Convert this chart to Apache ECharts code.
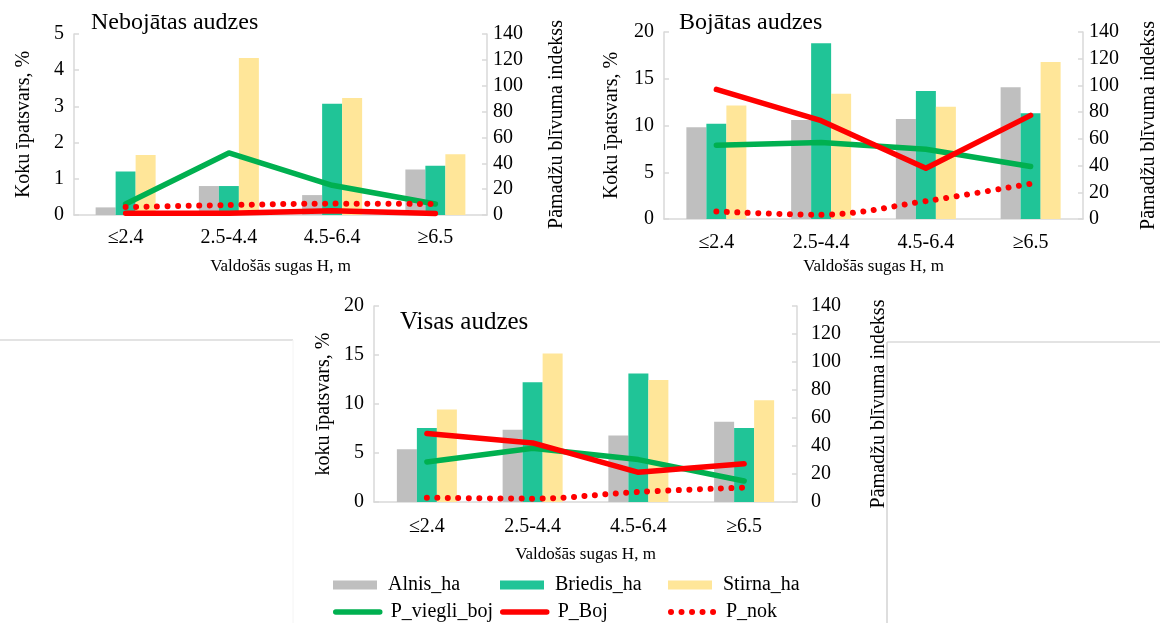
<!DOCTYPE html>
<html>
<head>
<meta charset="utf-8">
<script src="https://cdn.jsdelivr.net/npm/echarts@6/dist/echarts.min.js"></script>
<style>
  html, body { margin: 0; padding: 0; background: #fff; }
  #chart { width: 1160px; height: 623px; }
</style>
</head>
<body>
<div id="chart"></div>
<script>
// Height classes of the dominant species
const categories = ['≤2.4', '2.5-4.4', '4.5-6.4', '≥6.5'];

// Nebojātas audzes
const nebAlnis   = [0.21, 0.8, 0.55, 1.26];
const nebBriedis = [1.2, 0.8, 3.07, 1.36];
const nebStirna  = [1.66, 4.34, 3.23, 1.68];
const nebViegli  = [8.5, 48, 23, 8.5];
const nebBoj     = [1.3, 1.3, 3.3, 1.2];
const nebNok     = [6.1, 7.7, 8.8, 8.5];

// Bojātas audzes
const bojAlnis   = [9.8, 10.6, 10.7, 14.1];
const bojBriedis = [10.2, 18.8, 13.7, 11.3];
const bojStirna  = [12.15, 13.4, 12.0, 16.8];
const bojViegli  = [55.2, 57.2, 52.2, 39.3];
const bojBoj     = [97, 73.6, 38, 77.6];
const bojNok     = [5.7, 3.2, 13.4, 26.4];

// Visas audzes
const visAlnis   = [5.38, 7.36, 6.78, 8.18];
const visBriedis = [7.56, 12.23, 13.12, 7.56];
const visStirna  = [9.44, 15.16, 12.44, 10.39];
const visViegli  = [28.6, 38.4, 30.3, 15.0];
const visBoj     = [48.9, 42.2, 21.2, 27.4];
const visNok     = [3.1, 2.4, 7.2, 10.3];

const leftMax = [5, 20, 20];
const leftInterval = [1, 5, 5];
const rightTicks = { min: 0, max: 140, interval: 20 };
const panelTitles = ['Nebojātas audzes', 'Bojātas audzes', 'Visas audzes'];
const leftNames = ['Koku īpatsvars, %', 'Koku īpatsvars, %', 'koku īpatsvars, %'];
const rightName = 'Pāmadžu blīvuma indekss';
const xName = 'Valdošās sugas H, m';

const panels = [
  { alnis: nebAlnis, briedis: nebBriedis, stirna: nebStirna, viegli: nebViegli, boj: nebBoj, nok: nebNok },
  { alnis: bojAlnis, briedis: bojBriedis, stirna: bojStirna, viegli: bojViegli, boj: bojBoj, nok: bojNok },
  { alnis: visAlnis, briedis: visBriedis, stirna: visStirna, viegli: visViegli, boj: visBoj, nok: visNok }
];

const FONT = 'Liberation Serif';
const AXIS_GREY = '#D9D9D9';
const C_ALNIS = '#BFBFBF';
const C_BRIEDIS = '#20C497';
const C_STIRNA = '#FFE699';
const C_VIEGLI = '#00B050';
const C_BOJ = '#FF0000';
const NOK_DASH = [0.01, 10.5];

// Plot rectangles of the three panels
const grids = [
  { left: 74, top: 34, width: 413, height: 181 },
  { left: 664, top: 32, width: 423, height: 187 },
  { left: 374, top: 306, width: 423, height: 196 }
];
const xLabelMargin = [13, 14, 15];
const xNameGap = [43, 39, 44];
const leftNameGap = [40, 42, 40];
const rightLabelMargin = [6, 6, 14];
const rightNameGap = [60, 56, 72];
const titlePos = [
  { left: 86, top: 6, size: 24 },
  { left: 674, top: 6, size: 24 },
  { left: 395, top: 305, size: 25 }
];

const xAxes = [], yAxes = [], series = [], titles = [];
panels.forEach((p, i) => {
  titles.push({
    text: panelTitles[i], left: titlePos[i].left, top: titlePos[i].top,
    textStyle: { fontFamily: FONT, fontSize: titlePos[i].size, fontWeight: 'normal', color: '#000' }
  });
  xAxes.push({
    gridIndex: i, type: 'category', data: categories,
    axisLine: { lineStyle: { color: AXIS_GREY, width: 1.5 } },
    axisTick: { show: false },
    axisLabel: { fontFamily: FONT, fontSize: 20, color: '#000', margin: xLabelMargin[i] },
    name: xName, nameLocation: 'middle', nameGap: xNameGap[i],
    nameTextStyle: { fontFamily: FONT, fontSize: 17, color: '#000' }
  });
  yAxes.push({
    gridIndex: i, type: 'value', position: 'left', min: 0, max: leftMax[i], interval: leftInterval[i],
    axisLine: { show: true, lineStyle: { color: AXIS_GREY, width: 1.5 } },
    axisTick: { show: true, inside: true, length: 5, lineStyle: { color: AXIS_GREY, width: 1.5 } },
    splitLine: { show: false },
    axisLabel: { fontFamily: FONT, fontSize: 20, color: '#000', margin: 10 },
    name: leftNames[i], nameLocation: 'middle', nameRotate: 90, nameGap: leftNameGap[i],
    nameTextStyle: { fontFamily: FONT, fontSize: 20, color: '#000' }
  });
  yAxes.push({
    gridIndex: i, type: 'value', position: 'right',
    min: rightTicks.min, max: rightTicks.max, interval: rightTicks.interval,
    axisLine: { show: true, lineStyle: { color: AXIS_GREY, width: 1.5 } },
    axisTick: { show: true, inside: true, length: 5, lineStyle: { color: AXIS_GREY, width: 1.5 } },
    splitLine: { show: false },
    axisLabel: { fontFamily: FONT, fontSize: 20, color: '#000', margin: rightLabelMargin[i] },
    name: rightName, nameLocation: 'middle', nameRotate: 90, nameGap: rightNameGap[i],
    nameTextStyle: { fontFamily: FONT, fontSize: 20, color: '#000' }
  });
  const barBase = { type: 'bar', xAxisIndex: i, yAxisIndex: 2 * i, barWidth: 20, barGap: '0%' };
  series.push(Object.assign({ name: 'Alnis_ha', data: p.alnis, itemStyle: { color: C_ALNIS } }, barBase));
  series.push(Object.assign({ name: 'Briedis_ha', data: p.briedis, itemStyle: { color: C_BRIEDIS } }, barBase));
  series.push(Object.assign({ name: 'Stirna_ha', data: p.stirna, itemStyle: { color: C_STIRNA } }, barBase));
  const lineBase = { type: 'line', xAxisIndex: i, yAxisIndex: 2 * i + 1, symbol: 'none', z: 5 };
  series.push(Object.assign({ name: 'P_viegli_boj', data: p.viegli,
    itemStyle: { color: C_VIEGLI },
    lineStyle: { color: C_VIEGLI, width: 5.5, cap: 'round', join: 'round' } }, lineBase));
  series.push(Object.assign({ name: 'P_Boj', data: p.boj,
    itemStyle: { color: C_BOJ },
    lineStyle: { color: C_BOJ, width: 5.5, cap: 'round', join: 'round' } }, lineBase));
  series.push(Object.assign({ name: 'P_nok', data: p.nok, smooth: 0.35,
    itemStyle: { color: C_BOJ },
    lineStyle: { color: C_BOJ, width: 6, type: NOK_DASH, cap: 'round' } }, lineBase));
});

// One legend block per entry, laid out as a 3 x 2 table
const legendItems = [
  { name: 'Alnis_ha', left: 333, top: 575, kind: 'bar' },
  { name: 'Briedis_ha', left: 500, top: 575, kind: 'bar' },
  { name: 'Stirna_ha', left: 668, top: 575, kind: 'bar' },
  { name: 'P_viegli_boj', left: 333, top: 602, kind: 'line', color: C_VIEGLI },
  { name: 'P_Boj', left: 500, top: 602, kind: 'line', color: C_BOJ },
  { name: 'P_nok', left: 668, top: 602, kind: 'dots', color: C_BOJ }
];
const legends = legendItems.map(it => {
  const lg = {
    data: [it.name], left: it.left, top: it.top, orient: 'horizontal',
    itemWidth: 44, itemHeight: 9, itemGap: 0, padding: 0,
    selectedMode: false,
    textStyle: { fontFamily: FONT, fontSize: 20, color: '#000', padding: [0, 0, 0, 6] }
  };
  if (it.kind === 'bar') {
    lg.icon = 'rect';
  } else {
    // hide the marker dot, keep only the stroke
    lg.itemStyle = { opacity: 0 };
    lg.lineStyle = it.kind === 'dots'
      ? { color: it.color, width: 6, type: NOK_DASH, cap: 'round' }
      : { color: it.color, width: 5.5, cap: 'round' };
  }
  return lg;
});

const chart = echarts.init(document.getElementById('chart'), null, { renderer: 'canvas' });
chart.setOption({
  backgroundColor: '#fff',
  animation: false,
  title: titles,
  legend: legends,
  grid: grids,
  xAxis: xAxes,
  yAxis: yAxes,
  series: series,
  graphic: [
    { type: 'line', shape: { x1: 0, y1: 340, x2: 293, y2: 340 }, style: { stroke: '#C8C8C8', lineWidth: 1.2 } },
    { type: 'line', shape: { x1: 293, y1: 340, x2: 293, y2: 623 }, style: { stroke: '#F4F4F4', lineWidth: 1 } },
    { type: 'line', shape: { x1: 887, y1: 342, x2: 1160, y2: 342 }, style: { stroke: '#C8C8C8', lineWidth: 1.2 } },
    { type: 'line', shape: { x1: 887, y1: 342, x2: 887, y2: 623 }, style: { stroke: '#C8C8C8', lineWidth: 1.2 } }
  ]
});
</script>
</body>
</html>
